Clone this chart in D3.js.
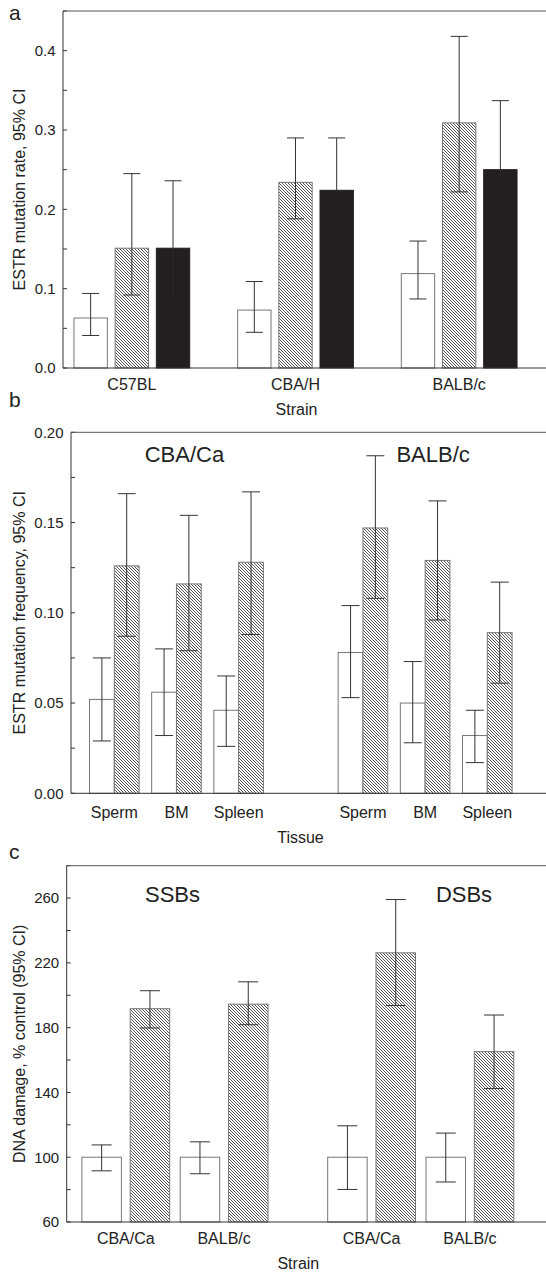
<!DOCTYPE html>
<html>
<head>
<meta charset="utf-8">
<script src="https://cdn.jsdelivr.net/npm/d3@7"></script>
<style>
	body { margin: 0; background: #fff; }
	text { font-family: 'Liberation Sans', Arial, sans-serif; fill: #222; }
</style>
</head>
<body>
<div class="view-container"></div>
<script>
'use strict';

// panel a: ESTR mutation rate by strain (white / hatched / black bars)
var strainsA = ['C57BL', 'CBA/H', 'BALB/c'];
var seriesA = ['control', 'hatched', 'solid'];
var rateA = [[0.063, 0.151, 0.151], [0.073, 0.234, 0.224], [0.119, 0.309, 0.250]];
var loA = [[0.041, 0.092, 0.090], [0.045, 0.188, 0.170], [0.087, 0.222, 0.180]];
var hiA = [[0.094, 0.245, 0.236], [0.109, 0.290, 0.290], [0.160, 0.418, 0.337]];
var ticksA = [0, 0.1, 0.2, 0.3, 0.4];

// panel b: ESTR mutation frequency by tissue, two strains
var strainsB = ['CBA/Ca', 'BALB/c'];
var tissuesB = ['Sperm', 'BM', 'Spleen'];
var ctrlB = [[0.052, 0.056, 0.046], [0.078, 0.050, 0.032]];
var ctrlLoB = [[0.029, 0.032, 0.026], [0.053, 0.028, 0.017]];
var ctrlHiB = [[0.075, 0.080, 0.065], [0.104, 0.073, 0.046]];
var expB = [[0.126, 0.116, 0.128], [0.147, 0.129, 0.089]];
var expLoB = [[0.087, 0.079, 0.088], [0.108, 0.096, 0.061]];
var expHiB = [[0.166, 0.154, 0.167], [0.187, 0.162, 0.117]];
var ticksB = [0, 0.05, 0.10, 0.15, 0.20];

// panel c: DNA damage, % control
var damageC = ['SSBs', 'DSBs'];
var strainsC = ['CBA/Ca', 'BALB/c'];
var ctrlC = [[100, 100], [100, 100]];
var ctrlLoC = [[91.6, 89.8], [80.1, 84.7]];
var ctrlHiC = [[107.6, 109.5], [119.4, 114.9]];
var expC = [[191.7, 194.5], [226.2, 165.2]];
var expLoC = [[179.8, 181.8], [193.7, 142.4]];
var expHiC = [[202.8, 208.3], [259.1, 187.8]];
var ticksC = [60, 100, 140, 180, 220, 260];

var W = 546, H = 1272;
var AXIS = '#333';
var EDGE = '#777';
var BLACK = '#231f20';

var svg = d3.select('.view-container').append('svg')
	.attr('width', W)
	.attr('height', H);

var pat = svg.append('defs').append('pattern')
	.attr('id', 'hatch')
	.attr('patternUnits', 'userSpaceOnUse')
	.attr('width', 3)
	.attr('height', 3);
pat.append('rect').attr('width', 3).attr('height', 3).attr('fill', '#fff');
pat.append('path')
	.attr('d', 'M-1,-1L4,4M-1,2L1,4M2,-1L4,1')
	.attr('stroke', '#444')
	.attr('stroke-width', 0.9);

function fillFor(kind) {
	if (kind === 'solid') return BLACK;
	if (kind === 'hatched') return 'url(#hatch)';
	return '#fff';
}

function drawFrame(p, y, majors, minorStep, fmt) {
	var g = svg.append('g');
	var domain = y.domain();
	var minors = d3.range(domain[0], domain[1] + 1e-9, minorStep);

	g.selectAll('.tick').data(minors).enter().append('line')
		.attr('x1', p.left).attr('x2', p.left + 4)
		.attr('y1', function(d) { return y(d); })
		.attr('y2', function(d) { return y(d); })
		.attr('stroke', AXIS);

	g.selectAll('.lbl').data(majors).enter().append('text')
		.attr('x', p.left - 7.5)
		.attr('y', function(d) { return y(d); })
		.attr('dy', '0.36em')
		.attr('text-anchor', 'end')
		.style('font-size', '15px')
		.text(function(d) { return d3.format(fmt)(d); });

	g.append('line').attr('x1', p.left).attr('x2', W).attr('y1', p.top).attr('y2', p.top)
		.attr('stroke', '#555');
	g.append('line').attr('x1', p.left).attr('x2', p.left).attr('y1', p.top).attr('y2', p.bottom)
		.attr('stroke', AXIS);

	g.append('text')
		.attr('transform', 'translate(19,' + (p.top + p.bottom) / 2 + ') rotate(-90)')
		.attr('text-anchor', 'middle')
		.attr('dy', '0.35em')
		.style('font-size', '16px')
		.text(p.ylabel);

	g.append('text')
		.attr('x', (p.left + W - 16) / 2)
		.attr('y', p.titleY)
		.attr('text-anchor', 'middle')
		.style('font-size', '16px')
		.text(p.xlabel);

	g.append('text')
		.attr('x', 9)
		.attr('y', p.letterY)
		.style('font-size', '21px')
		.text(p.letter);
	return g;
}

function drawBar(g, x, w, y, v, lo, hi, kind, cap) {
	g.append('rect')
		.attr('x', x)
		.attr('y', y(v))
		.attr('width', w)
		.attr('height', y.range()[0] - y(v))
		.attr('fill', fillFor(kind))
		.attr('stroke', kind === 'solid' ? BLACK : EDGE)
		.attr('stroke-width', 1);
	var cx = x + w / 2;
	var col = kind === 'solid' ? BLACK : AXIS;
	g.append('line').attr('x1', cx).attr('x2', cx).attr('y1', y(hi)).attr('y2', y(lo))
		.attr('stroke', AXIS);
	if (kind === 'solid') {
		// lower whisker disappears into the black bar
		g.append('line').attr('x1', cx).attr('x2', cx).attr('y1', y(v) + 1).attr('y2', y(lo))
			.attr('stroke', col);
	}
	g.append('line').attr('x1', cx - cap / 2).attr('x2', cx + cap / 2).attr('y1', y(hi)).attr('y2', y(hi))
		.attr('stroke', AXIS);
	g.append('line').attr('x1', cx - cap / 2).attr('x2', cx + cap / 2).attr('y1', y(lo)).attr('y2', y(lo))
		.attr('stroke', col);
}

function drawBaseline(p) {
	svg.append('line').attr('x1', p.left).attr('x2', W).attr('y1', p.bottom).attr('y2', p.bottom)
		.attr('stroke', AXIS);
}

// ---- panel a
var pa = { left: 63, top: 11, bottom: 368, ylabel: 'ESTR mutation rate, 95% CI',
	xlabel: 'Strain', titleY: 415, letter: 'a', letterY: 20 };
var yA = d3.scaleLinear().domain([0, 0.45]).range([pa.bottom, pa.top]);
var x0A = d3.scaleBand().domain(strainsA).range([50, 541]);
var x1A = d3.scaleBand().domain(seriesA).range([0, x0A.bandwidth()]).paddingInner(0.19).paddingOuter(0.582);
var gA = drawFrame(pa, yA, ticksA, 0.05, '.1f');
strainsA.forEach(function(s, i) {
	seriesA.forEach(function(k, j) {
		drawBar(gA, x0A(s) + x1A(k), x1A.bandwidth(), yA, rateA[i][j], loA[i][j], hiA[i][j], k, 17);
	});
	gA.append('text')
		.attr('x', x0A(s) + x0A.bandwidth() / 2)
		.attr('y', 389.5)
		.attr('text-anchor', 'middle')
		.style('font-size', '16px')
		.text(s);
});
drawBaseline(pa);

// ---- panel b
var pb = { left: 71, top: 432.3, bottom: 793.3, ylabel: 'ESTR mutation frequency, 95% CI',
	xlabel: 'Tissue', titleY: 842.7, letter: 'b', letterY: 406.5 };
var yB = d3.scaleLinear().domain([0, 0.20]).range([pb.bottom, pb.top]);
var xB = d3.scaleLinear().domain([0, 6]).range([114.3, 487.3]);
var bwB = 24.8;
var gB = drawFrame(pb, yB, ticksB, 0.025, '.2f');
strainsB.forEach(function(s, i) {
	tissuesB.forEach(function(t, j) {
		var c = xB(i * 4 + j);
		drawBar(gB, c - bwB, bwB, yB, ctrlB[i][j], ctrlLoB[i][j], ctrlHiB[i][j], 'control', 18);
		drawBar(gB, c, bwB, yB, expB[i][j], expLoB[i][j], expHiB[i][j], 'hatched', 18);
		gB.append('text')
			.attr('x', c)
			.attr('y', 817.7)
			.attr('text-anchor', 'middle')
			.style('font-size', '16px')
			.text(t);
	});
	gB.append('text')
		.attr('x', xB(i * 4 + 1) + 8)
		.attr('y', 461.7)
		.attr('text-anchor', 'middle')
		.style('font-size', '22px')
		.text(s);
});
drawBaseline(pb);

// ---- panel c
var pc = { left: 66.7, top: 865.7, bottom: 1222, ylabel: 'DNA damage, % control (95% CI)',
	xlabel: 'Strain', titleY: 1268.7, letter: 'c', letterY: 859 };
var yC = d3.scaleLinear().domain([60, 280]).range([pc.bottom, pc.top]);
var xC = d3.scaleLinear().domain([0, 3.5]).range([125.8, 469.9]);
var bwC = 39.5;
var labelAtC = [0.475, 3.44]; // where SSBs / DSBs headings sit on the x scale
var gC = drawFrame(pc, yC, ticksC, 20, 'd');
damageC.forEach(function(d, i) {
	strainsC.forEach(function(s, j) {
		var c = xC(i * 2.5 + j);
		drawBar(gC, c - 4.4 - bwC, bwC, yC, ctrlC[i][j], ctrlLoC[i][j], ctrlHiC[i][j], 'control', 20);
		drawBar(gC, c + 4.4, bwC, yC, expC[i][j], expLoC[i][j], expHiC[i][j], 'hatched', 20);
		gC.append('text')
			.attr('x', c)
			.attr('y', 1244)
			.attr('text-anchor', 'middle')
			.style('font-size', '16px')
			.text(s);
	});
	gC.append('text')
		.attr('x', xC(labelAtC[i]))
		.attr('y', 901.7)
		.attr('text-anchor', 'middle')
		.style('font-size', '22px')
		.text(d);
});
drawBaseline(pc);
</script>
</body>
</html>
